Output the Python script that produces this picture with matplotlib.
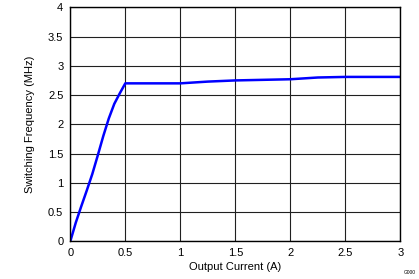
import matplotlib
matplotlib.use("Agg")
import matplotlib.pyplot as plt

plt.rcParams["font.family"] = ["Liberation Sans", "DejaVu Sans"]

# output current (A) vs switching frequency (MHz)
current = [0, 0.05, 0.1, 0.15, 0.2, 0.25, 0.3, 0.35, 0.4, 0.45, 0.5,
           0.75, 1.0, 1.25, 1.5, 1.75, 2.0, 2.25, 2.5, 2.75, 3.0]
freq = [0, 0.32, 0.60, 0.87, 1.15, 1.47, 1.80, 2.10, 2.35, 2.53, 2.70,
        2.70, 2.70, 2.73, 2.75, 2.76, 2.77, 2.80, 2.81, 2.81, 2.81]

x_ticks = [0, 0.5, 1, 1.5, 2, 2.5, 3]
x_labels = ["0", "0.5", "1", "1.5", "2", "2.5", "3"]
y_ticks = [0, 0.5, 1, 1.5, 2, 2.5, 3, 3.5, 4]
y_labels = ["0", "0.5", "1", "1.5", "2", "2.5", "3", "3.5", "4"]

fig = plt.figure(figsize=(4.19, 2.79), dpi=100)
ax = fig.add_axes([70.3 / 419, 1 - 241.3 / 279, 330 / 419, 234 / 279])

ax.plot(current, freq, color="#0000ff", linewidth=1.8, solid_joinstyle="round")

ax.set_xlim(0, 3)
ax.set_ylim(0, 4)
ax.set_xticks(x_ticks)
ax.set_xticklabels(x_labels)
ax.set_yticks(y_ticks)
ax.set_yticklabels(y_labels)
ax.tick_params(length=0, labelsize=8, pad=5)
ax.grid(True, color="#202020", linewidth=0.8)
ax.set_axisbelow(True)
for s in ax.spines.values():
    s.set_linewidth(1.0)
    s.set_color("black")

ax.set_xlabel("Output Current (A)", fontsize=8, labelpad=3)
ax.set_ylabel("Switching Frequency (MHz)", fontsize=8, labelpad=9)

fig.text(410 / 419, 1 - 273 / 279, "G000", fontsize=3.5, ha="center", va="center")

plt.savefig("out.png", dpi=100)
plt.close()
